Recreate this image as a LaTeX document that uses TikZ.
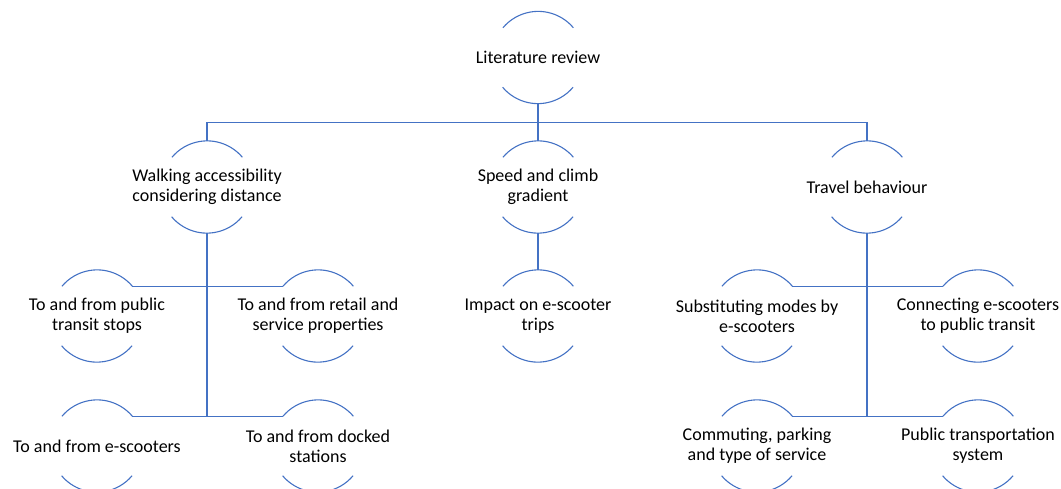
\documentclass[tikz,border=0pt]{standalone}
\usepackage{fontspec}
\setmainfont{Carlito}
\usetikzlibrary{calc}
\definecolor{sablue}{HTML}{4472C4}
\begin{document}
\begin{tikzpicture}[x=1pt,y=1pt,
  item/.style={circle, minimum size=92pt, inner sep=0pt, draw=none},
  lbl/.style={align=center, font=\fontsize{18}{19.8}\selectfont, text=black},
  conn/.style={draw=sablue, line width=1.1pt},
  arcline/.style={draw=sablue, line width=1.1pt}]
\useasboundingbox (0,0) rectangle (1061,-488);
\newcommand{\itemnode}[3]{\node[item] (#1) at #2 {}; \node[lbl] at (#1.center) {#3};}
\itemnode{lr}{(538,-57.5)}{Literature review}
\itemnode{walk}{(207,-187)}{Walking accessibility\\considering distance}
\itemnode{speed}{(538,-187)}{Speed and climb\\gradient}
\itemnode{travel}{(867,-187)}{Travel behaviour}
\itemnode{a1}{(97,-316)}{To and from public\\transit stops}
\itemnode{a2}{(318,-316)}{To and from retail and\\service properties}
\itemnode{a3}{(97,-446)}{To and from e-scooters}
\itemnode{a4}{(318,-446)}{To and from docked\\stations}
\itemnode{imp}{(538,-316)}{Impact on e-scooter\\trips}
\itemnode{t1}{(757,-316)}{Substituting modes by\\e-scooters}
\itemnode{t2}{(978,-316)}{Connecting e-scooters\\to public transit}
\itemnode{t3}{(757,-446)}{Commuting, parking\\and type of service}
\itemnode{t4}{(978,-446)}{Public transportation\\system}
\foreach \n in {lr,walk,speed,travel,a1,a2,a3,a4,imp,t1,t2,t3,t4}{
  \draw[arcline] (\n.40) arc[start angle=40,end angle=140,radius=46pt];
  \draw[arcline] (\n.220) arc[start angle=220,end angle=320,radius=46pt];
}
\coordinate (j) at ($(lr.south)!0.5!(speed.north)$);
\draw[conn] (lr.south) -- (speed.north);
\draw[conn] (j) -| (walk.north);
\draw[conn] (j) -| (travel.north);
\draw[conn] (walk.south) -- (walk.south |- a3.40);
\draw[conn] (a1.40) -- (a2.140);
\draw[conn] (a3.40) -- (a4.140);
\draw[conn] (speed.south) -- (imp.north);
\draw[conn] (travel.south) -- (travel.south |- t3.40);
\draw[conn] (t1.40) -- (t2.140);
\draw[conn] (t3.40) -- (t4.140);
\end{tikzpicture}
\end{document}
